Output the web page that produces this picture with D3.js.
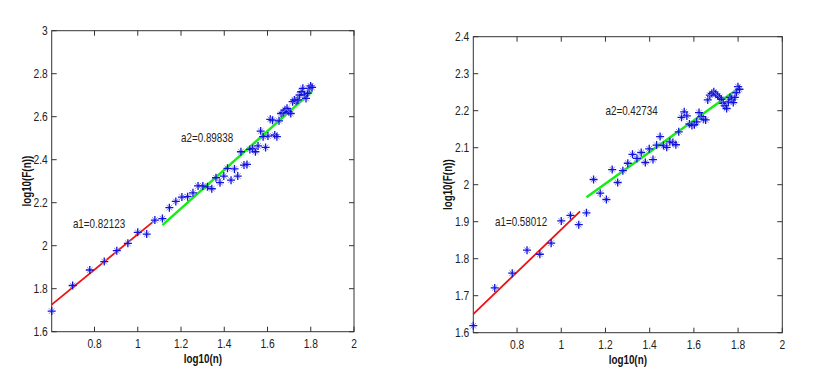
<!DOCTYPE html>
<html>
<head>
<meta charset="utf-8">
<title>log10(F(n)) vs log10(n)</title>
<script src="https://cdn.jsdelivr.net/npm/d3@7/dist/d3.min.js"></script>
<style>
  body { margin: 0; background: #fff; }
  svg { display: block; }
  .tick-label { font-family: "Liberation Sans", Arial, sans-serif; font-size: 12.5px; fill: #222; }
  .axis-title { font-family: "Liberation Sans", Arial, sans-serif; font-size: 12px; font-weight: bold; fill: #111; }
  .note { font-family: "Liberation Sans", Arial, sans-serif; font-size: 12px; fill: #222; }
</style>
</head>
<body>
<script>
// window sizes n = 4..64, plotted as log10(n)
var nValues = [4, 5, 6, 7, 8, 9, 10, 11, 12, 13, 14, 15, 16, 17, 18, 19, 20, 21, 22, 23, 24,
    25, 26, 27, 28, 29, 30, 31, 32, 33, 34, 35, 36, 37, 38, 39, 40, 41, 42, 43, 44,
    45, 46, 47, 48, 49, 50, 51, 52, 53, 54, 55, 56, 57, 58, 59, 60, 61, 62, 63, 64];

// log10(F(n)), left panel
var leftF = [1.696, 1.815, 1.887, 1.926, 1.977, 2.011, 2.062, 2.054, 2.119, 2.126, 2.177,
    2.206, 2.226, 2.228, 2.246, 2.278, 2.278, 2.274, 2.265, 2.316, 2.293, 2.324, 2.360,
    2.305, 2.357, 2.324, 2.437, 2.375, 2.378, 2.448, 2.451, 2.437, 2.464, 2.533, 2.507,
    2.457, 2.510, 2.588, 2.584, 2.515, 2.507, 2.581, 2.615, 2.619, 2.631, 2.639, 2.623,
    2.615, 2.670, 2.678, 2.674, 2.678, 2.701, 2.716, 2.732, 2.701, 2.685, 2.709, 2.732,
    2.743, 2.736];

// log10(F(n)), right panel
var rightF = [1.619, 1.721, 1.761, 1.823, 1.812, 1.842, 1.902, 1.917, 1.892, 1.924, 2.014,
    1.977, 1.960, 2.041, 2.006, 2.038, 2.058, 2.082, 2.071, 2.087, 2.060, 2.097, 2.068,
    2.107, 2.130, 2.106, 2.101, 2.116, 2.114, 2.108, 2.143, 2.182, 2.197, 2.186, 2.164,
    2.160, 2.162, 2.170, 2.195, 2.184, 2.177, 2.175, 2.229, 2.242, 2.247, 2.251, 2.245,
    2.240, 2.236, 2.231, 2.220, 2.213, 2.206, 2.224, 2.236, 2.231, 2.222, 2.236, 2.249,
    2.265, 2.258];

// fitted segments [x, y] end points
var leftFit1 = [[0.602, 1.726], [1.079, 2.118]];
var leftFit2 = [[1.114, 2.096], [1.806, 2.718]];
var rightFit1 = [[0.602, 1.650], [1.085, 1.928]];
var rightFit2 = [[1.114, 1.966], [1.806, 2.262]];

var xTicks = [0.8, 1, 1.2, 1.4, 1.6, 1.8, 2];
var xTickLabels = ["0.8", "1", "1.2", "1.4", "1.6", "1.8", "2"];
var leftYTicks = [1.6, 1.8, 2, 2.2, 2.4, 2.6, 2.8, 3];
var leftYTickLabels = ["1.6", "1.8", "2", "2.2", "2.4", "2.6", "2.8", "3"];
var rightYTicks = [1.6, 1.7, 1.8, 1.9, 2, 2.1, 2.2, 2.3, 2.4];
var rightYTickLabels = ["1.6", "1.7", "1.8", "1.9", "2", "2.1", "2.2", "2.3", "2.4"];

var width = 824, height = 378;
var sx = 0.82; // the original text is horizontally squeezed

var svg = d3.select("body").append("svg")
    .attr("width", width)
    .attr("height", height);

function tr(px, py) {
    return "translate(" + px + "," + py + ") scale(" + sx + ",1)";
}

function drawPanel(p) {
    var x = d3.scaleLinear().domain([Math.log10(4), 2]).range([p.left, p.right]);
    var y = d3.scaleLinear().domain(p.yDomain).range([p.bottom, p.top]);
    var g = svg.append("g");
    var tl = 5;

    // box
    g.append("rect")
        .attr("x", p.left).attr("y", p.top)
        .attr("width", p.right - p.left).attr("height", p.bottom - p.top)
        .attr("fill", "none").attr("stroke", "#333").attr("stroke-width", 1);

    // x ticks (inward, top and bottom)
    xTicks.forEach(function (t, i) {
        var px = x(t);
        g.append("line").attr("x1", px).attr("x2", px)
            .attr("y1", p.bottom).attr("y2", p.bottom - tl).attr("stroke", "#333");
        g.append("line").attr("x1", px).attr("x2", px)
            .attr("y1", p.top).attr("y2", p.top + tl).attr("stroke", "#333");
        g.append("text").attr("class", "tick-label")
            .attr("transform", tr(px, p.bottom + 16))
            .attr("text-anchor", "middle")
            .text(xTickLabels[i]);
    });

    // y ticks (inward, left and right)
    p.yTicks.forEach(function (t, i) {
        var py = y(t);
        g.append("line").attr("x1", p.left).attr("x2", p.left + tl)
            .attr("y1", py).attr("y2", py).attr("stroke", "#333");
        g.append("line").attr("x1", p.right).attr("x2", p.right - tl)
            .attr("y1", py).attr("y2", py).attr("stroke", "#333");
        g.append("text").attr("class", "tick-label")
            .attr("transform", tr(p.left - 4, py + 4.5))
            .attr("text-anchor", "end")
            .text(p.yTickLabels[i]);
    });

    // axis titles
    g.append("text").attr("class", "axis-title")
        .attr("transform", tr((p.left + p.right) / 2, p.bottom + 31))
        .attr("text-anchor", "middle")
        .text("log10(n)");
    g.append("text").attr("class", "axis-title")
        .attr("transform", "translate(" + (p.left - 21) + "," + ((p.top + p.bottom) / 2) + ") rotate(-90) scale(" + sx + ",1)")
        .attr("text-anchor", "middle")
        .text("log10(F(n))");

    // fitted lines
    var line = d3.line().x(function (d) { return x(d[0]); }).y(function (d) { return y(d[1]); });
    g.append("path").attr("d", line(p.fit1))
        .attr("fill", "none").attr("stroke", "#ee1111").attr("stroke-width", 1.8);
    g.append("path").attr("d", line(p.fit2))
        .attr("fill", "none").attr("stroke", "#11ee11").attr("stroke-width", 2.4);

    // asterisk markers
    var pts = nValues.map(function (n, i) { return [Math.log10(n), p.values[i]]; });
    var m = g.selectAll("g.pt").data(pts).enter().append("g")
        .attr("class", "pt")
        .attr("transform", function (d) { return "translate(" + x(d[0]) + "," + y(d[1]) + ")"; });
    m.append("path")
        .attr("d", "M-2.8,-2.8L2.8,2.8M-2.8,2.8L2.8,-2.8")
        .attr("stroke", "#8888ee").attr("stroke-width", 1);
    m.append("path")
        .attr("d", "M-4,0L4,0M0,-4L0,4")
        .attr("stroke", "#1111dd").attr("stroke-width", 1.3);

    // slope notes
    p.notes.forEach(function (nt) {
        g.append("text").attr("class", "note")
            .attr("transform", tr(x(nt.x), y(nt.y) + 4))
            .text(nt.text);
    });
}

drawPanel({
    left: 51.7, right: 354, top: 30.7, bottom: 331.7,
    yDomain: [1.6, 3], yTicks: leftYTicks, yTickLabels: leftYTickLabels,
    values: leftF, fit1: leftFit1, fit2: leftFit2,
    notes: [{ x: 0.7, y: 2.1, text: "a1=0.82123" }, { x: 1.2, y: 2.5, text: "a2=0.89838" }]
});

drawPanel({
    left: 473.3, right: 782.3, top: 36.7, bottom: 332.7,
    yDomain: [1.6, 2.4], yTicks: rightYTicks, yTickLabels: rightYTickLabels,
    values: rightF, fit1: rightFit1, fit2: rightFit2,
    notes: [{ x: 0.7, y: 1.9, text: "a1=0.58012" }, { x: 1.2, y: 2.2, text: "a2=0.42734" }]
});
</script>
</body>
</html>
